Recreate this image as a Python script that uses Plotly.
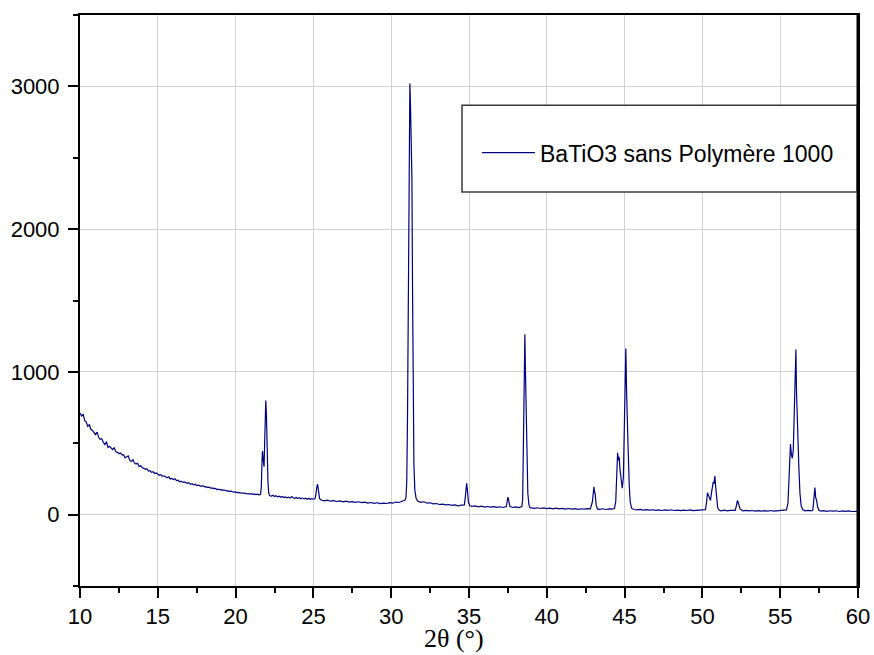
import plotly.graph_objects as go

# ---------------- data ----------------
low_2theta = [10.0, 10.1, 10.2, 10.3, 10.4, 10.5, 10.6, 10.7, 10.8, 10.9,
              11.0, 11.1, 11.2, 11.3, 11.4, 11.5, 11.6, 11.7, 11.8, 11.9,
              12.0, 12.1, 12.2, 12.3, 12.4, 12.5, 12.6, 12.7, 12.8, 12.9,
              13.0, 13.1, 13.2, 13.3, 13.4, 13.5, 13.6, 13.7, 13.8, 13.9,
              14.0, 14.1, 14.2, 14.3, 14.4, 14.5, 14.6, 14.7, 14.8, 14.9,
              15.0, 15.1, 15.2, 15.3, 15.4, 15.5, 15.6, 15.7, 15.8, 15.9,
              16.0, 16.1, 16.2, 16.3, 16.4, 16.5, 16.6, 16.7, 16.8, 16.9,
              17.0, 17.1, 17.2, 17.3, 17.4, 17.5, 17.6, 17.7, 17.8, 17.9,
              18.0, 18.1, 18.2, 18.3, 18.4, 18.5, 18.6, 18.7, 18.8, 18.9,
              19.0, 19.1, 19.2, 19.3, 19.4, 19.5, 19.6, 19.7, 19.8, 19.9,
              20.0, 20.1, 20.2, 20.3, 20.4, 20.5, 20.6, 20.7, 20.8, 20.9,
              21.0, 21.1, 21.2, 21.3, 21.4, 21.5, 21.6]
low_counts = [712, 690, 705, 660, 648, 618, 630, 598, 590, 575,
              560, 578, 540, 528, 532, 505, 490, 512, 470, 478,
              462, 455, 470, 441, 436, 428, 432, 418, 420, 397,
              405, 412, 380, 372, 385, 362, 354, 360, 338, 342,
              330, 325, 318, 322, 305, 308, 296, 300, 288, 292,
              284, 276, 280, 268, 272, 262, 258, 265, 250, 253,
              246, 252, 238, 241, 230, 235, 226, 229, 222, 219,
              224, 212, 216, 208, 213, 204, 207, 200, 198, 203,
              194, 196, 190, 193, 185, 187, 182, 184, 176, 179,
              173, 175, 170, 172, 166, 168, 162, 165, 160, 157,
              159, 154, 156, 151, 153, 149, 151, 146, 148, 144,
              147, 142, 145, 140, 143, 139, 142]

mid_2theta = [21.65, 21.7, 21.73, 21.78, 21.83, 21.88, 21.94, 21.98, 22.03, 22.08, 22.13, 22.2,
              22.3, 22.4, 22.5, 22.6, 22.7, 22.8, 22.9, 23.0, 23.1, 23.2, 23.3, 23.4, 23.5,
              23.6, 23.7, 23.8, 23.9, 24.0, 24.1, 24.2, 24.3, 24.4, 24.5, 24.6, 24.7, 24.8,
              24.9, 25.0, 25.1,
              25.15, 25.22, 25.27, 25.33, 25.4,
              25.5, 25.7, 25.9, 26.1, 26.3, 26.5, 26.7, 26.9, 27.1, 27.3, 27.5, 27.7, 27.9,
              28.1, 28.3, 28.5, 28.7, 28.9, 29.1, 29.3, 29.5, 29.7, 29.9, 30.1, 30.3, 30.5,
              30.7, 30.9]
mid_counts = [190, 380, 445, 380, 335, 560, 800, 700, 420, 230, 150, 132,
              130, 136, 127, 132, 124, 129, 121, 127, 120, 124, 118, 123, 116,
              126, 118, 114, 120, 113, 118, 111, 116, 110, 115, 108, 113, 107,
              112, 108, 111,
              135, 195, 213, 165, 112,
              102, 97, 101, 94, 98, 92, 96, 89, 94, 88, 91, 86, 90,
              84, 87, 81, 85, 79, 83, 77, 81, 78, 84, 80, 88, 85,
              94, 102]

main_2theta = [30.95, 31.0, 31.05, 31.1, 31.15, 31.2, 31.24, 31.29, 31.33, 31.37,
               31.41, 31.46, 31.52, 31.6,
               31.7, 31.9, 32.1, 32.3, 32.5, 32.7, 32.9, 33.1, 33.3, 33.5, 33.7,
               33.9, 34.1, 34.3, 34.5, 34.7,
               34.75, 34.8, 34.85, 34.9, 34.96, 35.05,
               35.2, 35.4, 35.6, 35.8, 36.0, 36.2, 36.4, 36.6, 36.8, 37.0, 37.2, 37.4,
               37.45, 37.5, 37.56, 37.63,
               37.8, 38.0, 38.2, 38.4,
               38.45, 38.5, 38.55, 38.59, 38.62, 38.65, 38.69, 38.73, 38.78, 38.85, 38.92]
main_counts = [120, 230, 700, 1700, 2600, 3020, 2870, 2600, 2370, 1600,
               800, 350, 170, 115,
               95, 86, 90, 80, 83, 75, 78, 71, 74, 68, 71,
               65, 68, 62, 66, 68,
               110, 190, 220, 170, 90, 62,
               58, 61, 55, 59, 53, 57, 52, 56, 51, 55, 50, 56,
               95, 122, 95, 58,
               50, 54, 49, 56,
               110, 450, 1000, 1264, 1050, 895, 750, 400, 150, 70, 48]

high_2theta = [39.0, 39.2, 39.4, 39.6, 39.8, 40.0, 40.2, 40.4, 40.6, 40.8, 41.0, 41.2,
               41.4, 41.6, 41.8, 42.0, 42.2, 42.4, 42.6, 42.8,
               42.93, 42.98, 43.03, 43.07, 43.11, 43.17, 43.25,
               43.4, 43.6, 43.8, 44.0, 44.2, 44.35,
               44.43, 44.49, 44.55, 44.6, 44.65, 44.7, 44.78, 44.85, 44.92, 44.98,
               45.04, 45.08, 45.13, 45.18, 45.23, 45.3, 45.36, 45.45,
               45.6, 45.8, 46.0, 46.2, 46.4, 46.6, 46.8, 47.0, 47.2, 47.4, 47.6, 47.8,
               48.0, 48.2, 48.4, 48.6, 48.8, 49.0, 49.2, 49.4, 49.6, 49.8, 50.0, 50.2]
high_counts = [47, 44, 48, 43, 47, 42, 46, 41, 45, 40, 44, 39,
               43, 38, 42, 37, 41, 38, 42, 40,
               90, 170, 195, 160, 145, 70, 40,
               37, 41, 36, 40, 38, 45,
               90, 300, 433, 380, 405, 320, 220, 185, 260, 600,
               1000, 1163, 850, 703, 450, 200, 90, 45,
               36, 33, 37, 32, 35, 31, 34, 30, 33, 29, 33, 30,
               34, 29, 32, 28, 32, 29, 33, 28, 31, 29, 32, 35]

end_2theta = [50.27, 50.33, 50.39, 50.46, 50.52, 50.58, 50.65, 50.7, 50.74, 50.8,
              50.85, 50.91, 50.98, 51.08,
              51.2, 51.4, 51.6, 51.8, 52.0, 52.1,
              52.18, 52.25, 52.3, 52.35, 52.42,
              52.6, 52.8, 53.0, 53.2, 53.4, 53.6, 53.8, 54.0, 54.2, 54.4, 54.6, 54.8,
              55.0, 55.2, 55.4,
              55.5, 55.58, 55.66, 55.72, 55.78, 55.84, 55.9, 55.96, 56.01, 56.05,
              56.1, 56.15, 56.2, 56.27, 56.35, 56.45,
              56.6, 56.8, 57.0, 57.1,
              57.17, 57.23, 57.28, 57.34, 57.4, 57.48,
              57.6, 57.8, 58.0, 58.2, 58.4, 58.6, 58.8, 59.0, 59.2, 59.4, 59.6, 59.8, 60.0]
end_counts = [90, 153, 135, 110, 100, 150, 215, 230, 215, 270,
              200, 100, 50, 30,
              27, 31, 26, 30, 27, 30,
              60, 100, 85, 70, 40,
              27, 30, 26, 29, 25, 28, 24, 28, 25, 29, 24, 27,
              25, 29, 33,
              80, 300, 494, 420, 395, 452, 700, 1000, 1157, 850,
              620, 520, 330, 150, 60, 35,
              27, 30, 26, 32,
              100, 190, 120, 100, 55, 32,
              25, 28, 23, 27, 24, 27, 22, 26, 23, 26, 22, 25, 23]

x_ticks = [10, 15, 20, 25, 30, 35, 40, 45, 50, 55, 60]
y_ticks = [0, 1000, 2000, 3000]
series_name = "BaTiO3 sans Polymère 1000"
x_title = "2θ (°)"

for a, b in [(low_2theta, low_counts), (mid_2theta, mid_counts), (main_2theta, main_counts),
             (high_2theta, high_counts), (end_2theta, end_counts)]:
    assert len(a) == len(b), (len(a), len(b))

two_theta = low_2theta + mid_2theta + main_2theta + high_2theta + end_2theta
intensity = low_counts + mid_counts + main_counts + high_counts + end_counts

# ---------------- figure ----------------
fig = go.Figure()
fig.add_trace(go.Scatter(
    x=two_theta, y=intensity, mode="lines", name=series_name,
    line=dict(color="#000080", width=1.2),
))

tick_font = dict(family="Liberation Sans, Arial, sans-serif", size=22, color="black")
grid_color = "#d2d2d2"

fig.update_layout(
    width=874, height=655,
    margin=dict(l=80, r=16, t=15, b=69),
    paper_bgcolor="white", plot_bgcolor="white",
    showlegend=True,
    legend=dict(
        x=0.5103, y=0.759, xanchor="left", yanchor="middle",
        bgcolor="rgba(0,0,0,0)", borderwidth=0,
        font=dict(family="Liberation Sans, Arial, sans-serif", size=23, color="black"),
        itemwidth=53,
    ),
    xaxis=dict(
        range=[10, 60], tickvals=x_ticks, ticktext=[str(v) for v in x_ticks],
        showline=True, linecolor="black", linewidth=2, mirror=True,
        ticks="outside", ticklen=10, tickwidth=2, tickcolor="black",
        minor=dict(dtick=2.5, tick0=10, ticks="outside", ticklen=5, tickwidth=2,
                   tickcolor="black", showgrid=False),
        showgrid=True, gridcolor=grid_color, gridwidth=1.3,
        zeroline=False, tickfont=tick_font, automargin=False,
    ),
    yaxis=dict(
        range=[-500, 3500], tickvals=y_ticks, ticktext=[str(v) for v in y_ticks],
        showline=True, linecolor="black", linewidth=2, mirror=True,
        ticks="outside", ticklen=10, tickwidth=2, tickcolor="black",
        minor=dict(dtick=500, tick0=0, ticks="outside", ticklen=5, tickwidth=2,
                   tickcolor="black", showgrid=False),
        showgrid=True, gridcolor=grid_color, gridwidth=1.3,
        zeroline=False, tickfont=tick_font, ticklabelstandoff=4, automargin=False,
    ),
    annotations=[
        dict(text=x_title, xref="paper", yref="paper", x=0.481, y=-0.0915,
             xanchor="center", yanchor="middle", showarrow=False,
             font=dict(family="Liberation Serif, Times New Roman, serif", size=26,
                       color="black")),
    ],
    shapes=[
        dict(type="rect", xref="paper", yref="paper", x0=0.491, x1=0.999, y0=0.690, y1=0.842,
             fillcolor="white", line=dict(color="#3a3a3a", width=1.5), layer="above"),
        dict(type="line", xref="paper", yref="paper", x0=1, x1=1, y0=0, y1=1,
             line=dict(color="black", width=3), layer="above"),
    ],
)

fig.write_html("out.html")
